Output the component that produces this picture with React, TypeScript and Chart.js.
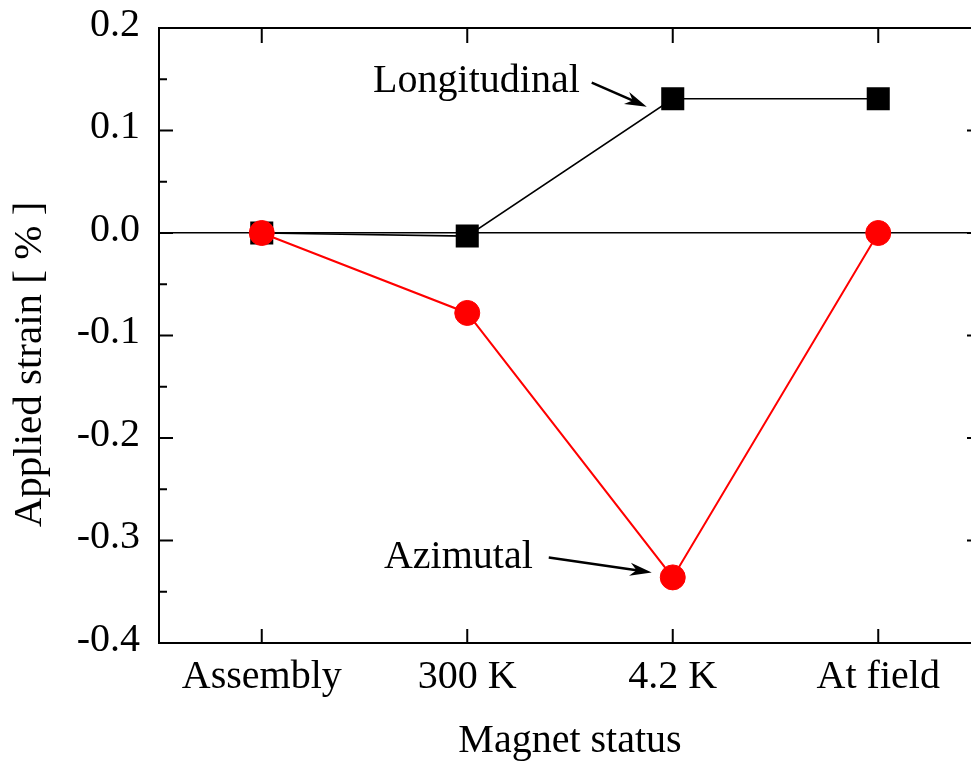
import React, { useEffect, useRef } from 'react';
import { Chart, registerables } from 'chart.js';

Chart.register(...registerables);

const categories = ['Assembly', '300 K', '4.2 K', 'At field'];
const longitudinal = [0, -0.003, 0.131, 0.131];
const azimutal = [0, -0.078, -0.336, 0];
const yTickValues = [-0.4, -0.3, -0.2, -0.1, 0, 0.1, 0.2];
const yMinorTickValues = [-0.35, -0.25, -0.15, -0.05, 0.05, 0.15];
const yMin = -0.4;
const yMax = 0.2;
const xTitle = 'Magnet status';
const yTitle = 'Applied strain [ % ]';
const longLabel = 'Longitudinal';
const aziLabel = 'Azimutal';

const FONT = '"Liberation Serif", serif';

function drawArrow(ctx: CanvasRenderingContext2D, x1: number, y1: number, x2: number, y2: number) {
  const ang = Math.atan2(y2 - y1, x2 - x1);
  const len = 22;
  const hw = 6.5;
  ctx.beginPath();
  ctx.moveTo(x1, y1);
  ctx.lineTo(x2 - Math.cos(ang) * 10, y2 - Math.sin(ang) * 10);
  ctx.lineWidth = 2.5;
  ctx.stroke();
  const bx = x2 - Math.cos(ang) * len;
  const by = y2 - Math.sin(ang) * len;
  const nx = -Math.sin(ang);
  const ny = Math.cos(ang);
  const mx = x2 - Math.cos(ang) * len * 0.7;
  const my = y2 - Math.sin(ang) * len * 0.7;
  ctx.beginPath();
  ctx.moveTo(x2, y2);
  ctx.lineTo(bx + nx * hw, by + ny * hw);
  ctx.lineTo(mx, my);
  ctx.lineTo(bx - nx * hw, by - ny * hw);
  ctx.closePath();
  ctx.fill();
}

const framePlugin = {
  id: 'framePlugin',
  afterDraw(chart: any) {
    const { ctx, chartArea: a, scales } = chart;
    const x = scales.x;
    const y = scales.y;
    ctx.save();
    ctx.strokeStyle = '#000';
    ctx.fillStyle = '#000';
    ctx.lineWidth = 2;
    ctx.strokeRect(a.left, a.top, a.right - a.left, a.bottom - a.top);
    ctx.beginPath();
    categories.forEach((_, i) => {
      const px = x.getPixelForValue(i);
      ctx.moveTo(px, a.bottom);
      ctx.lineTo(px, a.bottom - 14);
      ctx.moveTo(px, a.top);
      ctx.lineTo(px, a.top + 15);
    });
    yTickValues.forEach((v) => {
      const py = y.getPixelForValue(v);
      ctx.moveTo(a.left, py);
      ctx.lineTo(a.left + 14, py);
      ctx.moveTo(a.right, py);
      ctx.lineTo(a.right - 14, py);
    });
    yMinorTickValues.forEach((v) => {
      const py = y.getPixelForValue(v);
      ctx.moveTo(a.left, py);
      ctx.lineTo(a.left + 8, py);
      ctx.moveTo(a.right, py);
      ctx.lineTo(a.right - 8, py);
    });
    ctx.stroke();

    // y-axis title (shifted a little below the axis centre, as in the original)
    ctx.save();
    ctx.font = '41px "Liberation Serif"';
    ctx.textAlign = 'center';
    ctx.textBaseline = 'middle';
    ctx.translate(y.left + 30, (a.top + a.bottom) / 2 + 29);
    ctx.rotate(-Math.PI / 2);
    ctx.fillText(yTitle, 0, 0);
    ctx.restore();

    // annotations
    ctx.font = '40px "Liberation Serif"';
    ctx.textAlign = 'right';
    ctx.textBaseline = 'alphabetic';
    const lx = x.getPixelForValue(2);
    const ly = y.getPixelForValue(longitudinal[2]);
    ctx.fillText(longLabel, lx - 93, ly - 7);
    drawArrow(ctx, lx - 81, ly - 16, lx - 26, ly + 8);

    const ax = x.getPixelForValue(2);
    const ay = y.getPixelForValue(azimutal[2]);
    ctx.fillText(aziLabel, ax - 140, ay - 9);
    drawArrow(ctx, ax - 124, ay - 20, ax - 21, ay - 5);
    ctx.restore();
  },
};

export default function App() {
  const ref = useRef<HTMLCanvasElement>(null);
  useEffect(() => {
    if (!ref.current) return;
    const font40 = { size: 40, family: FONT };
    const chart = new Chart(ref.current, {
      type: 'line',
      data: {
        labels: categories,
        datasets: [
          {
            label: 'Azimutal',
            data: azimutal,
            borderColor: '#ff0000',
            backgroundColor: '#ff0000',
            borderWidth: 2,
            pointStyle: 'circle',
            pointRadius: 12.5,
            pointBorderWidth: 1,
            pointBorderColor: '#ff0000',
            pointBackgroundColor: '#ff0000',
            order: 0,
          },
          {
            label: 'Longitudinal',
            data: longitudinal,
            borderColor: '#000',
            backgroundColor: '#000',
            borderWidth: 1.6,
            pointStyle: 'rect',
            pointRadius: 16.3,
            pointBorderWidth: 0,
            pointBackgroundColor: '#000',
            order: 1,
          },
        ],
      },
      options: {
        animation: false,
        responsive: false,
        devicePixelRatio: 1,
        font: { family: FONT },
        layout: { padding: { left: 0, top: 28, right: 19, bottom: 0 } },
        plugins: { legend: { display: false }, tooltip: { enabled: false }, title: { display: false } },
        scales: {
          x: {
            type: 'category',
            offset: true,
            grid: { display: false, drawTicks: false },
            border: { display: false },
            ticks: { font: font40, padding: 10, color: '#000', maxRotation: 0 },
            title: { display: true, text: xTitle, font: { ...font40, lineHeight: 1.1 }, padding: 0, color: '#000' },
            afterFit: (s: any) => { s.height = 120; s.paddingLeft = 0; s.paddingRight = 0; },
          },
          y: {
            type: 'linear',
            min: yMin,
            max: yMax,
            afterBuildTicks: (s: any) => { s.ticks = yTickValues.map((v) => ({ value: v })); },
            grid: {
              drawTicks: false,
              color: (c: any) => (c.tick && Math.abs(c.tick.value) < 1e-9 ? '#000' : 'rgba(0,0,0,0)'),
              lineWidth: 1.6,
            },
            border: { display: false },
            ticks: {
              font: font40,
              padding: 19,
              color: '#000',
              labelOffset: -3,
              callback: (v: any) => Number(v).toFixed(1),
            },
            title: { display: false },
            afterFit: (s: any) => { s.width = 159; s.paddingTop = 0; s.paddingBottom = 0; },
          },
        },
      },
      plugins: [framePlugin],
    });
    return () => chart.destroy();
  }, []);
  return (
    <div style={{ position: 'absolute', left: 0, top: 0, width: 971, height: 763, overflow: 'hidden', background: '#fff' }}>
      <canvas ref={ref} width={1000} height={763} style={{ display: 'block' }} />
    </div>
  );
}
